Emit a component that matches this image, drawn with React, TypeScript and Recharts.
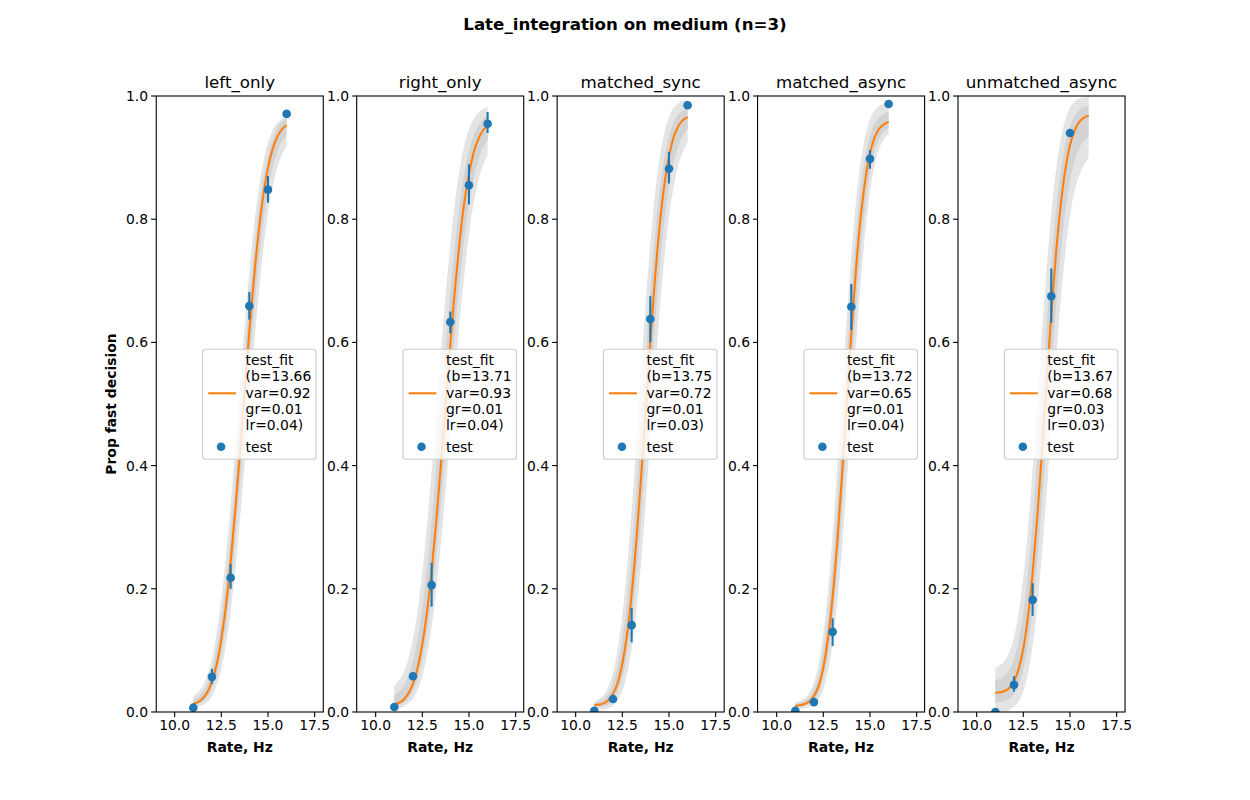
import React from 'react';
import { ComposedChart, Line, Area, Scatter, XAxis, YAxis, ErrorBar } from 'recharts';

const FONT = '"DejaVu Sans", sans-serif';

// shared x grid of the fitted curves (Hz)
const curveX = [11, 11.25, 11.5, 11.75, 12, 12.25, 12.5, 12.75, 13, 13.25, 13.5, 13.75, 14, 14.25, 14.5, 14.75, 15, 15.25, 15.5, 15.75, 16];
const xTicks = [10, 12.5, 15, 17.5];
const yTicks = [0, 0.2, 0.4, 0.6, 0.8, 1.0];
const titles = ['left_only', 'right_only', 'matched_sync', 'matched_async', 'unmatched_async'];

// left_only
const leftFit = [0.013, 0.016, 0.022, 0.032, 0.050, 0.077, 0.118, 0.173, 0.243, 0.328, 0.422, 0.521, 0.617, 0.704, 0.779, 0.839, 0.883, 0.914, 0.934, 0.946, 0.953];
const leftLo = [0.006, 0.008, 0.011, 0.016, 0.026, 0.044, 0.070, 0.109, 0.163, 0.231, 0.313, 0.404, 0.499, 0.592, 0.677, 0.750, 0.810, 0.852, 0.884, 0.905, 0.918];
const leftHi = [0.026, 0.032, 0.042, 0.060, 0.087, 0.128, 0.183, 0.254, 0.338, 0.432, 0.531, 0.626, 0.714, 0.789, 0.848, 0.893, 0.924, 0.944, 0.956, 0.963, 0.967];
const leftInLo = [0.010, 0.012, 0.017, 0.024, 0.038, 0.061, 0.094, 0.141, 0.203, 0.280, 0.368, 0.463, 0.558, 0.648, 0.728, 0.795, 0.847, 0.883, 0.909, 0.926, 0.936];
const leftInHi = [0.020, 0.024, 0.032, 0.046, 0.069, 0.103, 0.151, 0.214, 0.291, 0.380, 0.477, 0.574, 0.666, 0.747, 0.814, 0.866, 0.904, 0.929, 0.948, 0.959, 0.963];
const leftPtX = [11, 12, 13, 14, 15, 16];
const leftPtY = [0.007, 0.057, 0.218, 0.659, 0.848, 0.971];
const leftPtLo = [0.007, 0.046, 0.200, 0.637, 0.827, 0.971];
const leftPtHi = [0.007, 0.070, 0.240, 0.682, 0.870, 0.971];

// right_only
const rightFit = [0.012, 0.015, 0.020, 0.030, 0.046, 0.072, 0.110, 0.162, 0.229, 0.311, 0.403, 0.501, 0.597, 0.687, 0.764, 0.827, 0.874, 0.908, 0.930, 0.944, 0.952];
const rightLo = [0.006, 0.007, 0.009, 0.014, 0.022, 0.036, 0.058, 0.092, 0.138, 0.200, 0.275, 0.361, 0.454, 0.547, 0.633, 0.710, 0.776, 0.826, 0.862, 0.888, 0.905];
const rightHi = [0.043, 0.051, 0.064, 0.086, 0.119, 0.165, 0.227, 0.303, 0.391, 0.487, 0.585, 0.677, 0.759, 0.828, 0.881, 0.920, 0.946, 0.963, 0.973, 0.979, 0.982];
const rightInLo = [0.009, 0.011, 0.015, 0.022, 0.034, 0.054, 0.084, 0.127, 0.184, 0.256, 0.339, 0.431, 0.526, 0.617, 0.699, 0.769, 0.825, 0.867, 0.896, 0.916, 0.929];
const rightInHi = [0.028, 0.033, 0.042, 0.058, 0.083, 0.119, 0.169, 0.233, 0.310, 0.399, 0.494, 0.589, 0.678, 0.758, 0.823, 0.874, 0.910, 0.936, 0.952, 0.962, 0.967];
const rightPtX = [11, 12, 13, 14, 15, 16];
const rightPtY = [0.008, 0.058, 0.206, 0.633, 0.855, 0.955];
const rightPtLo = [0.008, 0.053, 0.171, 0.615, 0.824, 0.940];
const rightPtHi = [0.008, 0.063, 0.242, 0.650, 0.889, 0.974];

// matched_sync
const syncFit = [0.011, 0.012, 0.014, 0.019, 0.029, 0.047, 0.078, 0.125, 0.191, 0.277, 0.379, 0.490, 0.601, 0.703, 0.789, 0.855, 0.902, 0.933, 0.951, 0.961, 0.966];
const syncLo = [0.003, 0.004, 0.004, 0.006, 0.010, 0.019, 0.034, 0.061, 0.103, 0.163, 0.241, 0.337, 0.442, 0.550, 0.650, 0.736, 0.804, 0.852, 0.888, 0.910, 0.925];
const syncHi = [0.017, 0.021, 0.027, 0.041, 0.064, 0.101, 0.157, 0.233, 0.327, 0.436, 0.551, 0.662, 0.760, 0.840, 0.900, 0.940, 0.966, 0.981, 0.988, 0.992, 0.994];
const syncInLo = [0.007, 0.008, 0.009, 0.013, 0.020, 0.033, 0.056, 0.093, 0.147, 0.220, 0.310, 0.414, 0.522, 0.627, 0.720, 0.796, 0.853, 0.893, 0.920, 0.936, 0.946];
const syncInHi = [0.014, 0.017, 0.021, 0.030, 0.047, 0.074, 0.118, 0.179, 0.259, 0.357, 0.465, 0.576, 0.681, 0.772, 0.845, 0.898, 0.934, 0.957, 0.970, 0.977, 0.980];
const syncPtX = [11, 12, 13, 14, 15, 16];
const syncPtY = [0.002, 0.021, 0.141, 0.638, 0.882, 0.985];
const syncPtLo = [0.002, 0.017, 0.113, 0.600, 0.858, 0.985];
const syncPtHi = [0.002, 0.025, 0.169, 0.675, 0.909, 0.985];

// matched_async
const asyncFit = [0.010, 0.011, 0.013, 0.017, 0.026, 0.042, 0.072, 0.119, 0.187, 0.276, 0.383, 0.499, 0.614, 0.718, 0.802, 0.864, 0.907, 0.933, 0.947, 0.954, 0.958];
const asyncLo = [0.005, 0.005, 0.006, 0.008, 0.012, 0.020, 0.037, 0.066, 0.112, 0.178, 0.265, 0.370, 0.484, 0.596, 0.698, 0.780, 0.845, 0.888, 0.915, 0.930, 0.938];
const asyncHi = [0.016, 0.018, 0.022, 0.031, 0.048, 0.078, 0.127, 0.196, 0.288, 0.398, 0.517, 0.635, 0.741, 0.828, 0.892, 0.935, 0.962, 0.977, 0.984, 0.988, 0.989];
const asyncInLo = [0.008, 0.008, 0.010, 0.013, 0.019, 0.031, 0.055, 0.093, 0.150, 0.227, 0.324, 0.435, 0.549, 0.657, 0.750, 0.822, 0.876, 0.911, 0.931, 0.942, 0.948];
const asyncInHi = [0.013, 0.015, 0.018, 0.024, 0.037, 0.060, 0.100, 0.158, 0.238, 0.337, 0.450, 0.567, 0.678, 0.773, 0.847, 0.900, 0.935, 0.955, 0.966, 0.971, 0.974];
const asyncPtX = [11, 12, 13, 14, 15, 16];
const asyncPtY = [0.002, 0.016, 0.130, 0.658, 0.898, 0.987];
const asyncPtLo = [0.002, 0.013, 0.107, 0.620, 0.882, 0.987];
const asyncPtHi = [0.002, 0.019, 0.152, 0.695, 0.912, 0.987];

// unmatched_async
const unmFit = [0.031, 0.032, 0.034, 0.039, 0.050, 0.070, 0.103, 0.155, 0.226, 0.317, 0.423, 0.536, 0.646, 0.744, 0.822, 0.880, 0.920, 0.944, 0.958, 0.965, 0.968];
const unmLo = [0.000, 0.000, 0.001, 0.003, 0.008, 0.017, 0.034, 0.063, 0.108, 0.172, 0.256, 0.355, 0.463, 0.570, 0.666, 0.745, 0.805, 0.846, 0.871, 0.888, 0.900];
const unmHi = [0.072, 0.076, 0.083, 0.097, 0.121, 0.161, 0.219, 0.298, 0.395, 0.504, 0.615, 0.720, 0.809, 0.879, 0.929, 0.961, 0.981, 0.991, 0.996, 0.998, 0.999];
const unmInLo = [0.016, 0.016, 0.018, 0.021, 0.029, 0.044, 0.069, 0.109, 0.167, 0.245, 0.340, 0.446, 0.555, 0.657, 0.744, 0.813, 0.863, 0.895, 0.915, 0.927, 0.934];
const unmInHi = [0.052, 0.054, 0.059, 0.068, 0.086, 0.116, 0.161, 0.227, 0.311, 0.411, 0.519, 0.628, 0.728, 0.812, 0.876, 0.921, 0.951, 0.968, 0.977, 0.982, 0.984];
const unmPtX = [11, 12, 13, 14, 15];
const unmPtY = [0.000, 0.044, 0.182, 0.675, 0.940];
const unmPtLo = [0.000, 0.033, 0.156, 0.632, 0.940];
const unmPtHi = [0.000, 0.058, 0.209, 0.720, 0.940];

// legend parameter labels
const legendB = ['13.66', '13.71', '13.75', '13.72', '13.67'];
const legendVar = ['0.92', '0.93', '0.72', '0.65', '0.68'];
const legendGr = ['0.01', '0.01', '0.01', '0.01', '0.03'];
const legendLr = ['0.04', '0.04', '0.03', '0.04', '0.03'];

const series = [
  { fit: leftFit, lo: leftLo, hi: leftHi, ilo: leftInLo, ihi: leftInHi, px: leftPtX, py: leftPtY, pl: leftPtLo, ph: leftPtHi },
  { fit: rightFit, lo: rightLo, hi: rightHi, ilo: rightInLo, ihi: rightInHi, px: rightPtX, py: rightPtY, pl: rightPtLo, ph: rightPtHi },
  { fit: syncFit, lo: syncLo, hi: syncHi, ilo: syncInLo, ihi: syncInHi, px: syncPtX, py: syncPtY, pl: syncPtLo, ph: syncPtHi },
  { fit: asyncFit, lo: asyncLo, hi: asyncHi, ilo: asyncInLo, ihi: asyncInHi, px: asyncPtX, py: asyncPtY, pl: asyncPtLo, ph: asyncPtHi },
  { fit: unmFit, lo: unmLo, hi: unmHi, ilo: unmInLo, ihi: unmInHi, px: unmPtX, py: unmPtY, pl: unmPtLo, ph: unmPtHi },
];

const PLOT_W = 167.03;
const PLOT_H = 616;
const PLOT_TOP = 96;
const Y_AXIS_W = 50;
const X_AXIS_H = 30;
const RIGHT_PAD = 22;
const plotLefts = [156.25, 356.69, 557.13, 757.56, 958.0];

const BLUE = '#1f77b4';
const ORANGE = '#ff7f0e';

const tickStyle = { fill: '#000', fontSize: 13.9, fontFamily: FONT };

function Panel({ idx }: { idx: number }) {
  const s = series[idx];
  const rows = curveX.map((x, i) => ({
    x,
    fit: s.fit[i],
    band: [s.lo[i], s.hi[i]],
    inner: [s.ilo[i], s.ihi[i]],
  }));
  const pts = s.px.map((x, i) => ({ x, y: s.py[i], err: [s.py[i] - s.pl[i], s.ph[i] - s.py[i]] }));
  const L = plotLefts[idx];
  return (
    <div style={{ position: 'absolute', left: L - Y_AXIS_W, top: 0 }}>
      <ComposedChart
        width={Y_AXIS_W + PLOT_W + RIGHT_PAD}
        height={PLOT_TOP + PLOT_H + X_AXIS_H}
        data={rows}
        margin={{ top: PLOT_TOP, right: RIGHT_PAD, bottom: 0, left: 0 }}
      >
        <XAxis
          type="number"
          dataKey="x"
          domain={[9, 17.95]}
          ticks={xTicks}
          interval={0}
          allowDataOverflow
          tickFormatter={(v: number) => v.toFixed(1)}
          axisLine={false}
          tickLine={{ stroke: '#000', strokeWidth: 1.1 }}
          tickSize={4.9}
          tickMargin={3}
          height={X_AXIS_H}
          tick={tickStyle}
        />
        <YAxis
          type="number"
          domain={[0, 1]}
          ticks={yTicks}
          interval={0}
          allowDataOverflow
          tickFormatter={(v: number) => v.toFixed(1)}
          axisLine={false}
          tickLine={{ stroke: '#000', strokeWidth: 1.1 }}
          tickSize={4.9}
          tickMargin={3}
          width={Y_AXIS_W}
          tick={tickStyle}
        />
        <Area
          type="monotone"
          dataKey="band"
          fill="#e4e4e4"
          fillOpacity={1}
          stroke="none"
          isAnimationActive={false}
        />
        <Area
          type="monotone"
          dataKey="inner"
          fill="#d3d3d3"
          fillOpacity={1}
          stroke="none"
          isAnimationActive={false}
        />
        <Line
          type="monotone"
          dataKey="fit"
          stroke={ORANGE}
          strokeWidth={2.08}
          dot={false}
          isAnimationActive={false}
        />
        <Scatter
          data={pts}
          dataKey="y"
          fill={BLUE}
          isAnimationActive={false}
          shape={(p: any) => <circle cx={p.cx} cy={p.cy} r={4.3} fill={BLUE} />}
        >
          <ErrorBar dataKey="err" direction="y" width={0} stroke={BLUE} strokeWidth={2.08} />
        </Scatter>
      </ComposedChart>
    </div>
  );
}

function Overlay() {
  const lineGap = 16.3;
  return (
    <svg
      width={1250}
      height={800}
      style={{ position: 'absolute', left: 0, top: 0, pointerEvents: 'none' }}
      fontFamily={FONT}
    >
      <text x={625} y={30} textAnchor="middle" fontSize={16.67} fontWeight="bold" fill="#000">
        Late_integration on medium (n=3)
      </text>
      <text
        x={116}
        y={404}
        textAnchor="middle"
        fontSize={13.9}
        fontWeight="bold"
        fill="#000"
        transform="rotate(-90, 116, 404)"
      >
        Prop fast decision
      </text>
      {plotLefts.map((L, i) => {
        const R = L + PLOT_W;
        const boxR = R - 7.2;
        const boxW = 113.5;
        const boxL = boxR - boxW;
        const boxT = 349.3;
        const boxH = 110;
        const tx = boxL + 43;
        const lines = ['test_fit', `(b=${legendB[i]}`, `var=${legendVar[i]}`, `gr=${legendGr[i]}`, `lr=${legendLr[i]})`];
        return (
          <g key={i}>
            <rect x={L} y={PLOT_TOP} width={PLOT_W} height={PLOT_H} fill="none" stroke="#000" strokeWidth={1.1} />
            <text x={L + PLOT_W / 2} y={88} textAnchor="middle" fontSize={16.67} fill="#000">
              {titles[i]}
            </text>
            <text x={L + PLOT_W / 2} y={751.5} textAnchor="middle" fontSize={13.9} fontWeight="bold" fill="#000">
              Rate, Hz
            </text>
            <rect x={boxL} y={boxT} width={boxW} height={boxH} rx={3} ry={3} fill="#fff" fillOpacity={0.8} stroke="#cccccc" strokeWidth={1.1} />
            <line x1={boxL + 5.6} x2={boxL + 33.4} y1={393.3} y2={393.3} stroke={ORANGE} strokeWidth={2.08} />
            {lines.map((t, k) => (
              <text key={k} x={tx} y={365 + k * lineGap} fontSize={13.9} fill="#000">
                {t}
              </text>
            ))}
            <circle cx={boxL + 18.5} cy={446.7} r={4.3} fill={BLUE} />
            <text x={tx} y={451.7} fontSize={13.9} fill="#000">
              test
            </text>
          </g>
        );
      })}
    </svg>
  );
}

export default function App() {
  return (
    <div style={{ position: 'absolute', left: 0, top: 0, width: 1250, height: 800, background: '#fff', overflow: 'hidden' }}>
      {[0, 1, 2, 3, 4].map((i) => (
        <Panel key={i} idx={i} />
      ))}
      <Overlay />
    </div>
  );
}
